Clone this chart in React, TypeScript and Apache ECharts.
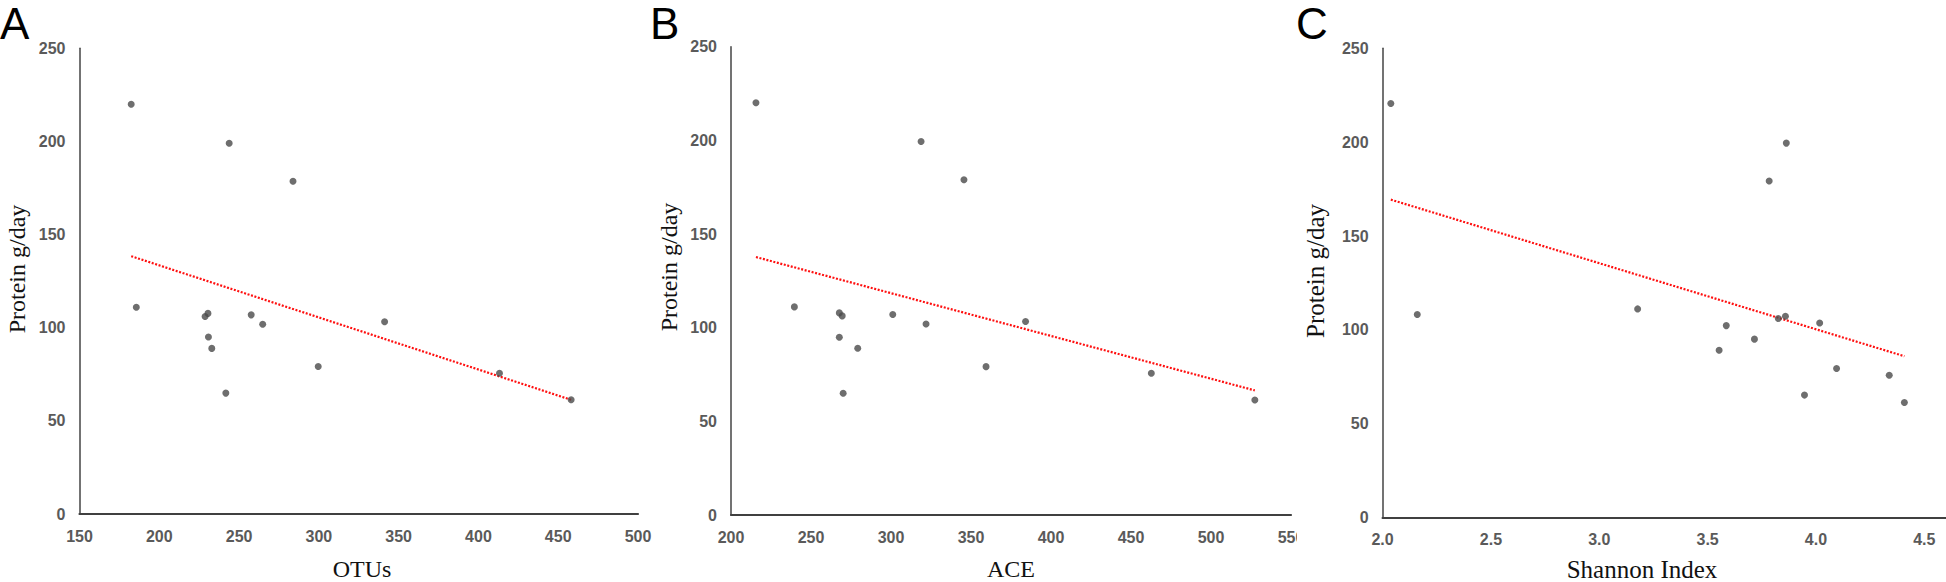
import React, { useEffect, useRef } from "react";
import * as echarts from "echarts";

// Panel A: OTUs vs protein
const otus = [182.4, 243.8, 283.8, 185.6, 228.7, 230.5, 230.8, 232.9, 241.7, 257.6, 264.8, 299.6, 341.2, 413.2, 458.1];
const proteinA = [220, 199, 178.6, 111, 106, 107.7, 95, 88.9, 64.9, 106.9, 101.9, 79.2, 103.2, 75.6, 61.3];
const trendA = [[182.4, 138.4], [458.1, 61.3]];

// Panel B: ACE vs protein
const ace = [215.6, 318.8, 345.6, 239.6, 267.7, 269.5, 267.7, 279.2, 270.1, 301.1, 321.9, 359.4, 384.1, 462.7, 527.4];
const proteinB = [220.1, 199.4, 179, 111.1, 107.9, 106.3, 94.9, 89, 65, 107, 102, 79.2, 103.3, 75.7, 61.4];
const trendB = [[215.6, 137.7], [527.4, 66.5]];

// Panel C: Shannon index vs protein
const shannon = [2.038, 3.863, 3.784, 2.16, 3.177, 3.586, 3.553, 3.716, 3.826, 3.859, 4.017, 3.947, 4.095, 4.338, 4.408];
const proteinC = [220.6, 199.5, 179.3, 108.2, 111.2, 102.3, 89.2, 95.1, 106.1, 107.3, 103.7, 65.3, 79.5, 75.9, 61.4];
const trendC = [[2.038, 169.4], [4.408, 86.0]];

const panelLetters = ["A", "B", "C"];
const xTitles = ["OTUs", "ACE", "Shannon Index"];
const yTitle = "Protein g/day";

const NARROW = "'Liberation Sans Narrow', 'Arial Narrow', 'Liberation Sans', sans-serif";
const SANS = "'Liberation Sans', Arial, sans-serif";
const SERIF = "'Liberation Serif', 'Times New Roman', serif";

const pairs = (xs: number[], ys: number[]) => xs.map((x, i) => [x, ys[i]]);

export default function App() {
  const ref = useRef<HTMLDivElement>(null);
  useEffect(() => {
    if (!ref.current) return;
    const chart = echarts.init(ref.current, undefined, { renderer: "svg" });

    const labelStyle = (font: string) => ({
      color: "#5a5a5a",
      fontSize: 16,
      fontWeight: "bold",
      fontFamily: font,
      margin: 14,
    });

    const yAxisBase = (gi: number, font: string) => ({
      type: "value",
      gridIndex: gi,
      min: 0,
      max: 250,
      interval: 50,
      splitLine: { show: false },
      axisTick: { show: false },
      axisLine: { show: true, lineStyle: { color: "#505050", width: 1.6 } },
      axisLabel: labelStyle(font),
    });

    const xAxisBase = (gi: number, min: number, max: number, interval: number, font: string, extra: any = {}) => ({
      type: "value",
      gridIndex: gi,
      min,
      max,
      interval,
      splitLine: { show: false },
      axisTick: { show: false },
      axisLine: { show: true, onZero: false, lineStyle: { color: "#404040", width: 2.2 } },
      axisLabel: { ...labelStyle(font), ...extra },
    });

    const scatter = (gi: number, data: number[][]) => ({
      type: "scatter",
      xAxisIndex: gi,
      yAxisIndex: gi,
      data,
      symbol: "circle",
      symbolSize: 7,
      itemStyle: { color: "#4a4a4a" },
      z: 3,
    });

    const trend = (gi: number, data: number[][]) => ({
      type: "line",
      xAxisIndex: gi,
      yAxisIndex: gi,
      data,
      showSymbol: false,
      symbol: "none",
      lineStyle: { color: "#ff1010", width: 2.2, type: [2, 1.6] },
      z: 2,
    });

    const letter = (t: string, x: number) => ({
      type: "text",
      x,
      y: 23,
      style: { text: t, font: `44px ${SANS}`, fill: "#000", align: "left", verticalAlign: "middle" },
    });

    const xTitle = (t: string, x: number, size: number) => ({
      type: "text",
      x,
      y: 569,
      style: { text: t, font: `${size}px ${SERIF}`, fill: "#111", align: "center", verticalAlign: "middle" },
    });

    const yTitleEl = (x: number, y: number, size: number) => ({
      type: "text",
      x,
      y,
      rotation: Math.PI / 2,
      style: { text: yTitle, font: `${size}px ${SERIF}`, fill: "#111", align: "center", verticalAlign: "middle" },
    });

    chart.setOption({
      animation: false,
      backgroundColor: "#fff",
      grid: [
        { left: 79.5, top: 48.3, width: 558.5, height: 465.7 },
        { left: 731, top: 46.7, width: 560, height: 468.3 },
        { left: 1382.6, top: 48.3, width: 566.8, height: 469.4 },
      ],
      xAxis: [
        xAxisBase(0, 150, 500, 50, NARROW),
        xAxisBase(1, 200, 550, 50, NARROW),
        xAxisBase(2, 2.0, 4.6, 0.5, SANS, {
          showMaxLabel: false,
          formatter: (v: number) => v.toFixed(1),
        }),
      ],
      yAxis: [yAxisBase(0, NARROW), yAxisBase(1, NARROW), yAxisBase(2, SANS)],
      series: [
        trend(0, trendA),
        scatter(0, pairs(otus, proteinA)),
        trend(1, trendB),
        scatter(1, pairs(ace, proteinB)),
        trend(2, trendC),
        scatter(2, pairs(shannon, proteinC)),
      ],
      graphic: [
        letter(panelLetters[0], 0),
        letter(panelLetters[1], 650),
        letter(panelLetters[2], 1296),
        xTitle(xTitles[0], 362, 24),
        xTitle(xTitles[1], 1011, 24),
        xTitle(xTitles[2], 1642, 25),
        yTitleEl(17, 269, 24),
        yTitleEl(669, 267, 24),
        yTitleEl(1315, 271, 25),
        {
          type: "rect",
          z: 100,
          shape: { x: 1297, y: 522, width: 14, height: 30 },
          style: { fill: "#fff" },
        },
      ],
    });
    return () => chart.dispose();
  }, []);
  return <div ref={ref} style={{ position: "absolute", left: 0, top: 0, width: 1946, height: 582 }} />;
}
